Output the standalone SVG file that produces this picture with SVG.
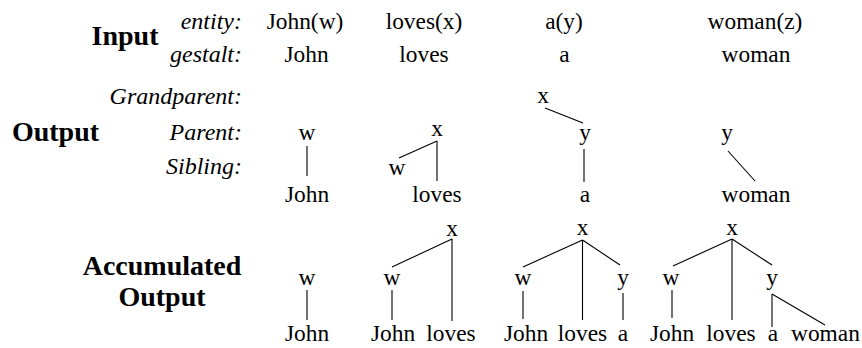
<svg xmlns="http://www.w3.org/2000/svg" width="862" height="348" viewBox="0 0 862 348">
<style>
text{font-family:"Liberation Serif","Times New Roman",serif;fill:#000}
.b{font-weight:bold;font-size:28px;text-anchor:middle}
.i{font-style:italic;font-size:24px;text-anchor:end}
.t{font-size:23.4px;text-anchor:middle}
.e line{stroke:#000;stroke-width:1.1}
</style>
<rect width="862" height="348" fill="#fff"/>
<g id="headings">
<text class="b" x="125" y="45">Input</text>
<text class="b" x="55.5" y="141">Output</text>
<text class="b" x="162" y="275">Accumulated</text>
<text class="b" x="162" y="306">Output</text>
</g>
<g id="row-labels">
<text class="i" x="242" y="29">entity:</text>
<text class="i" x="242" y="62">gestalt:</text>
<text class="i" x="242" y="104">Grandparent:</text>
<text class="i" x="242" y="140">Parent:</text>
<text class="i" x="242" y="174">Sibling:</text>
</g>
<g id="input">
<text class="t" x="305" y="29">John(w)</text>
<text class="t" x="424" y="29">loves(x)</text>
<text class="t" x="564" y="29">a(y)</text>
<text class="t" x="755" y="29">woman(z)</text>
<text class="t" x="306.5" y="62">John</text>
<text class="t" x="424" y="62">loves</text>
<text class="t" x="564.5" y="62">a</text>
<text class="t" x="756" y="62">woman</text>
</g>
<g id="out1"><text class="t" x="307" y="140">w</text><text class="t" x="307" y="201.5">John</text></g>
<g id="out2"><text class="t" x="437" y="136">x</text><text class="t" x="397" y="175">w</text><text class="t" x="437" y="201.5">loves</text></g>
<g id="out3"><text class="t" x="543" y="103">x</text><text class="t" x="585" y="140">y</text><text class="t" x="585" y="201.5">a</text></g>
<g id="out4"><text class="t" x="727" y="140">y</text><text class="t" x="756" y="201.5">woman</text></g>
<g id="acc1"><text class="t" x="307" y="285">w</text><text class="t" x="307" y="341">John</text></g>
<g id="acc2"><text class="t" x="452" y="236">x</text><text class="t" x="392" y="285">w</text><text class="t" x="393" y="341">John</text><text class="t" x="451" y="341">loves</text></g>
<g id="acc3"><text class="t" x="582.5" y="235">x</text><text class="t" x="523" y="285">w</text><text class="t" x="623" y="285">y</text><text class="t" x="526" y="341">John</text><text class="t" x="582.5" y="341">loves</text><text class="t" x="623" y="341">a</text></g>
<g id="acc4"><text class="t" x="732" y="235">x</text><text class="t" x="671" y="285">w</text><text class="t" x="772" y="285">y</text><text class="t" x="672" y="341">John</text><text class="t" x="731" y="341">loves</text><text class="t" x="773" y="341">a</text><text class="t" x="791" y="341" style="text-anchor:start">woman</text></g>
<g id="connectors" class="e">
<line x1="307" y1="146" x2="307" y2="176"/>
<line x1="437" y1="141" x2="437" y2="181"/>
<line x1="437" y1="141" x2="399" y2="158"/>
<line x1="545" y1="108" x2="583" y2="123"/>
<line x1="584" y1="149" x2="584" y2="182"/>
<line x1="728" y1="151" x2="755" y2="181"/>
<line x1="307" y1="290" x2="307" y2="320"/>
<line x1="452" y1="239" x2="392" y2="267"/>
<line x1="452" y1="239" x2="452" y2="321"/>
<line x1="392" y1="290" x2="392" y2="320"/>
<line x1="582.5" y1="240" x2="523" y2="267"/>
<line x1="582.5" y1="240" x2="582.5" y2="320"/>
<line x1="582.5" y1="240" x2="620" y2="265"/>
<line x1="523" y1="291" x2="523" y2="319"/>
<line x1="623" y1="293" x2="623" y2="320"/>
<line x1="732" y1="239" x2="673" y2="266"/>
<line x1="732" y1="239" x2="732" y2="320"/>
<line x1="732" y1="239" x2="772" y2="265"/>
<line x1="672" y1="290" x2="672" y2="318"/>
<line x1="772" y1="294" x2="772" y2="327"/>
<line x1="772" y1="294" x2="825" y2="325"/>
</g>
</svg>
